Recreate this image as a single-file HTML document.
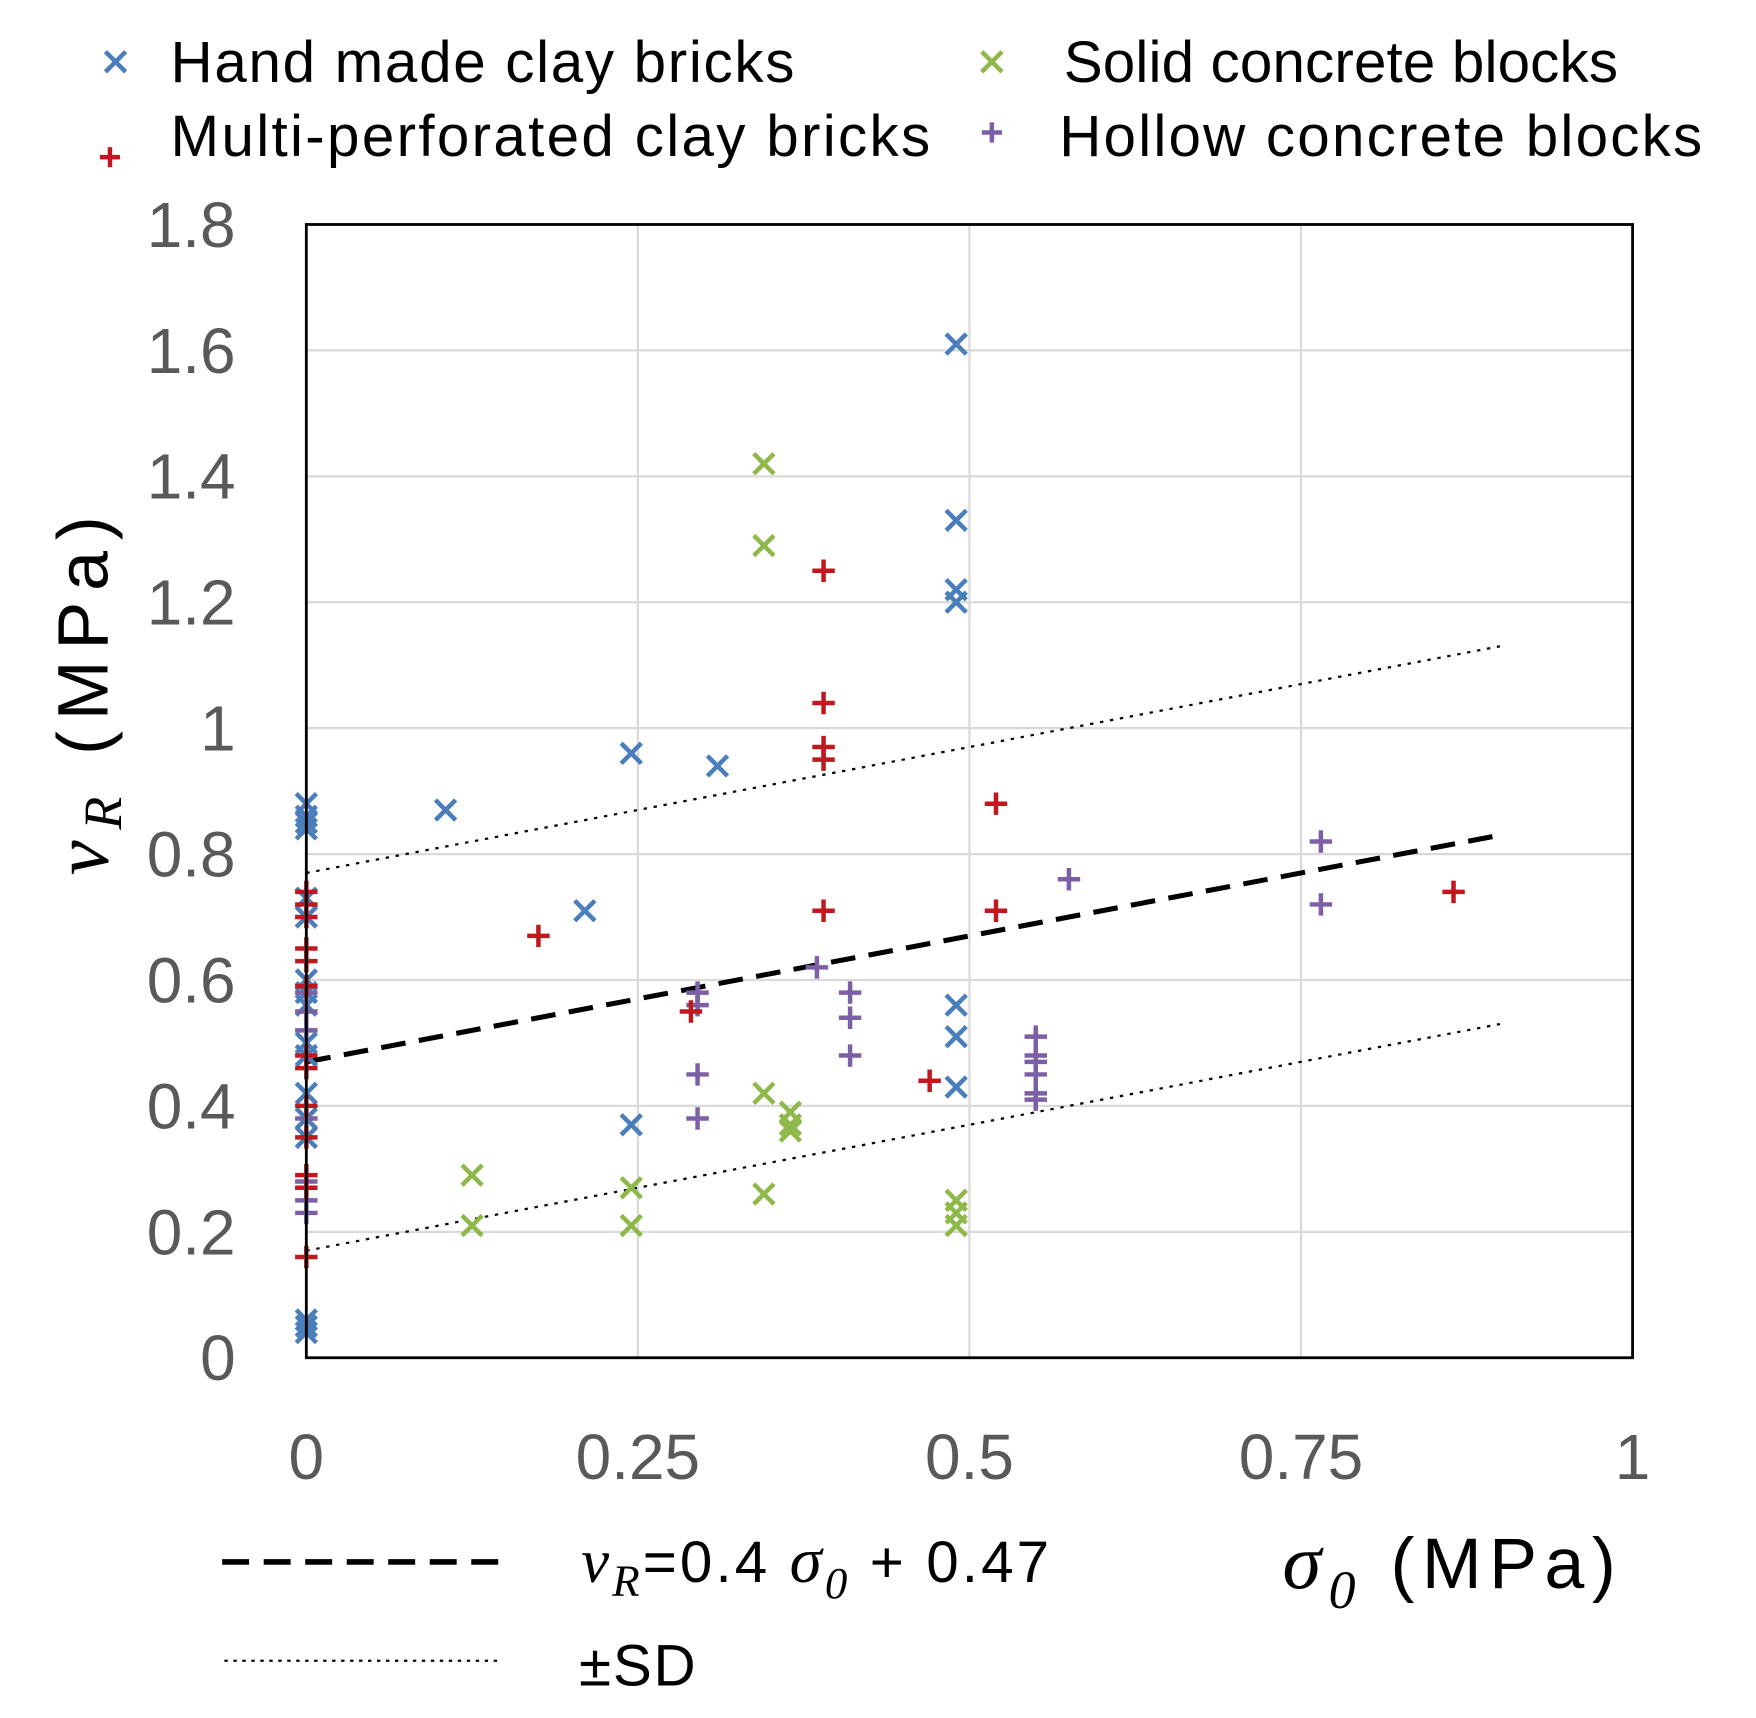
<!DOCTYPE html>
<html><head><meta charset="utf-8"><style>
html,body{margin:0;padding:0;background:#fff}
svg{display:block}
text{font-family:"Liberation Sans",sans-serif}
</style></head><body>
<svg id="chart" width="1756" height="1718" viewBox="0 0 1565 1531" xmlns="http://www.w3.org/2000/svg">
<g id="grid"></g>
<g id="fits"></g>
<g id="marks"></g>
<rect x="273" y="200" width="1182" height="1010" fill="none" stroke="#000" stroke-width="2.5"/>
<g id="yticks" fill="#595959" font-size="57" text-anchor="end"></g>
<g id="xticks" fill="#595959" font-size="57" text-anchor="middle"></g>
<text transform="translate(96,620) rotate(-90)" text-anchor="middle" font-size="64" fill="#000" textLength="320"><tspan font-family="Liberation Serif,serif" font-style="italic" font-size="70">v</tspan><tspan font-family="Liberation Serif,serif" font-style="italic" font-size="48" dy="12">R</tspan><tspan dy="-12">  (MPa)</tspan></text>
<text x="1143" y="1415" font-size="64" fill="#000" textLength="297"><tspan font-family="Liberation Serif,serif" font-style="italic" font-size="70">σ</tspan><tspan font-family="Liberation Serif,serif" font-style="italic" font-size="48" dy="18">0</tspan><tspan dy="-18"> (MPa)</tspan></text>
<g font-size="52" fill="#000">
<g><path d="M94,46 l18,18 M112,46 l-18,18" stroke="#4a7ebb" stroke-width="4"/><text x="152" y="73" textLength="556">Hand made clay bricks</text></g>
<g><path d="M89,140 h18 M98,131 v18" stroke="#c0181f" stroke-width="4"/><text x="152" y="139" textLength="677">Multi-perforated clay bricks</text></g>
<g><path d="M875,46 l18,18 M893,46 l-18,18" stroke="#8fb84a" stroke-width="4"/><text x="948" y="73" textLength="494">Solid concrete blocks</text></g>
<g><path d="M875,118 h18 M884,109 v18" stroke="#7d5fa6" stroke-width="4"/><text x="944" y="139" textLength="573">Hollow concrete blocks</text></g>
</g>
<g font-size="52" fill="#000">
<line x1="198" y1="1392" x2="445" y2="1392" stroke="#000" stroke-width="5" stroke-dasharray="24,13"/>
<text x="518" y="1410" textLength="417"><tspan font-family="Liberation Serif,serif" font-style="italic" font-size="56">v</tspan><tspan font-family="Liberation Serif,serif" font-style="italic" font-size="40" dy="12">R</tspan><tspan dy="-12">=0.4 </tspan><tspan font-family="Liberation Serif,serif" font-style="italic" font-size="58">σ</tspan><tspan font-family="Liberation Serif,serif" font-style="italic" font-size="40" dy="14">0</tspan><tspan dy="-14">  + 0.47</tspan></text>
<line x1="200" y1="1480" x2="445" y2="1480" stroke="#000" stroke-width="2" stroke-dasharray="3,5"/>
<text x="516" y="1502" textLength="104">±SD</text>
</g>
</svg>
<script>
const yTicks=[0,0.2,0.4,0.6,0.8,1,1.2,1.4,1.6,1.8];
const yTickLabels=["0","0.2","0.4","0.6","0.8","1","1.2","1.4","1.6","1.8"];
const xTicks=[0,0.25,0.5,0.75,1];
const xTickLabels=["0","0.25","0.5","0.75","1"];
const handX=[0,0,0,0,0,0,0,0,0,0,0,0,0,0,0,0,0,0.105,0.21,0.245,0.245,0.31,0.49,0.49,0.49,0.49,0.49,0.49,0.49];
const handY=[0.88,0.86,0.85,0.84,0.73,0.70,0.60,0.58,0.56,0.50,0.48,0.42,0.38,0.35,0.06,0.05,0.04,0.87,0.71,0.96,0.37,0.94,1.61,1.33,1.22,1.20,0.56,0.51,0.43];
const solidX=[0.125,0.125,0.245,0.245,0.345,0.345,0.345,0.345,0.365,0.365,0.365,0.49,0.49,0.49];
const solidY=[0.29,0.21,0.27,0.21,1.42,1.29,0.42,0.26,0.39,0.37,0.36,0.25,0.23,0.21];
const multiX=[0,0,0,0,0,0,0,0,0,0,0,0,0,0.175,0.29,0.39,0.39,0.39,0.39,0.39,0.47,0.52,0.52,0.865];
const multiY=[0.74,0.72,0.70,0.65,0.63,0.59,0.48,0.46,0.40,0.35,0.29,0.27,0.16,0.67,0.55,1.25,1.04,0.97,0.95,0.71,0.44,0.88,0.71,0.74];
const hollowX=[0,0,0,0,0,0,0,0.295,0.295,0.295,0.295,0.385,0.41,0.41,0.41,0.55,0.55,0.55,0.55,0.55,0.55,0.575,0.765,0.765];
const hollowY=[0.58,0.55,0.52,0.38,0.28,0.25,0.23,0.58,0.56,0.45,0.38,0.62,0.58,0.54,0.48,0.51,0.48,0.47,0.45,0.42,0.41,0.76,0.82,0.72];
const fitSlope=0.4, fitIntercept=0.47, fitSD=0.3, fitXMax=0.9;

const NS="http://www.w3.org/2000/svg";
const X0=273,X1=1455,Y0=1210,Y1=200;
const sx=v=>X0+(X1-X0)*v/1;
const sy=v=>Y0-(Y0-Y1)*v/1.8;
function mk(tag,attrs,parent){const e=document.createElementNS(NS,tag);for(const k in attrs)e.setAttribute(k,attrs[k]);parent.appendChild(e);return e;}
const grid=document.getElementById('grid');
yTicks.forEach((t,i)=>{
  const l=mk('line',{x1:X0,x2:X1,y1:sy(t),y2:sy(t),stroke:'#d9d9d9','stroke-width':2},grid);
  
  
  const tx=mk('text',{x:210,y:sy(t)+20},document.getElementById('yticks'));
  tx.textContent=yTickLabels[i];
  
  
});
xTicks.forEach((t,i)=>{
  const l=mk('line',{x1:sx(t),x2:sx(t),y1:Y0,y2:Y1,stroke:'#d9d9d9','stroke-width':2},grid);
  
  
  const tx=mk('text',{x:sx(t),y:1318},document.getElementById('xticks'));
  tx.textContent=xTickLabels[i];
  
  
});
const fits=document.getElementById('fits');
const f=x=>fitSlope*x+fitIntercept;
const fl=mk('line',{x1:sx(0),y1:sy(f(0)),x2:sx(fitXMax),y2:sy(f(fitXMax)),stroke:'#000','stroke-width':4.5,'stroke-dasharray':'22,12'},fits);


[fitSD,-fitSD].forEach(d=>{
  const l=mk('line',{x1:sx(0),y1:sy(f(0)+d),x2:sx(fitXMax),y2:sy(f(fitXMax)+d),stroke:'#000','stroke-width':2,'stroke-dasharray':'3,6'},fits);
  
  
});
const marks=document.getElementById('marks');
function cross(xs,ys,color,name){xs.forEach((x,i)=>{const cx=sx(x),cy=sy(ys[i]);
  const p=mk('path',{d:`M${cx-9},${cy-9}L${cx+9},${cy+9}M${cx+9},${cy-9}L${cx-9},${cy+9}`,stroke:color,'stroke-width':4},marks);
  
  });}
function plus(xs,ys,color,name){xs.forEach((x,i)=>{const cx=sx(x),cy=sy(ys[i]);
  const p=mk('path',{d:`M${cx-10},${cy}H${cx+10}M${cx},${cy-10}V${cy+10}`,stroke:color,'stroke-width':4},marks);
  
  });}
cross(solidX,solidY,'#8fb84a','solid-concrete-point');
cross(handX,handY,'#4a7ebb','hand-made-brick-point');
plus(hollowX,hollowY,'#7d5fa6','hollow-concrete-point');
plus(multiX,multiY,'#c0181f','multi-perforated-point');
</script>
</body></html>
